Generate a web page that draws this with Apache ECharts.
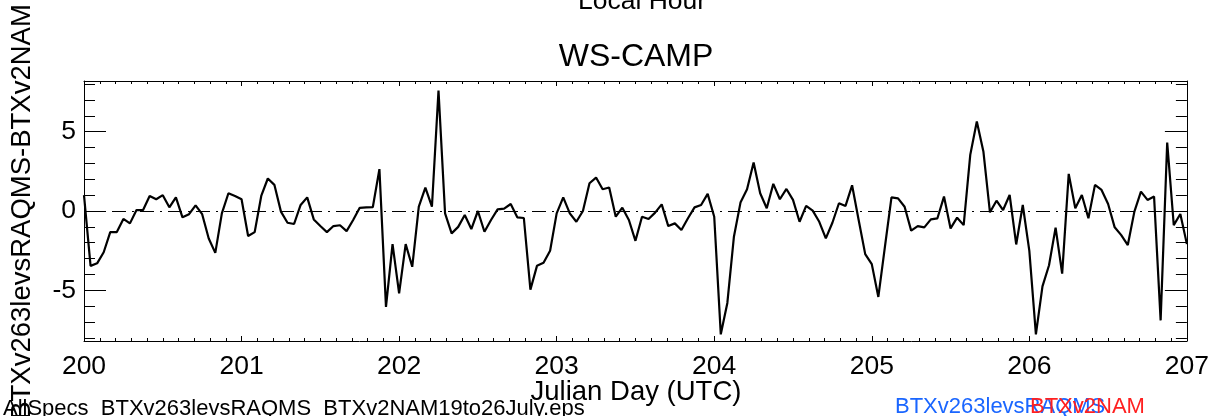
<!DOCTYPE html>
<html>
<head>
<meta charset="utf-8">
<script src="https://cdn.jsdelivr.net/npm/echarts@6/dist/echarts.min.js"></script>
<style>
html,body{margin:0;padding:0;background:#fff;}
#chart{width:1212px;height:416px;}
</style>
</head>
<body>
<div id="chart"></div>
<script>
// ---- data (hourly values, Julian Day 200.0 .. 207.0) ----
const startDay = 200;
const hoursPerDay = 24;
const diffValues = [
  1.0, -3.46, -3.3, -2.6, -1.33, -1.33, -0.5, -0.78, 0.06, 0.06, 0.95, 0.74,
  1.0, 0.23, 0.86, -0.4, -0.2, 0.36, -0.2, -1.73, -2.64, -0.15, 1.12, 0.95,
  0.74, -1.58, -1.33, 0.95, 2.05, 1.65, -0.04, -0.74, -0.82, 0.38, 0.86, -0.53,
  -0.95, -1.33, -0.95, -0.9, -1.27, -0.57, 0.2, 0.23, 0.25, 2.64, -6.05, -2.09,
  -5.2, -2.09, -3.52, 0.27, 1.48, 0.27, 7.6, -0.15, -1.41, -1.0, -0.25, -1.14,
  0.0, -1.31, -0.57, 0.1, 0.15, 0.44, -0.4, -0.44, -4.96, -3.46, -3.27, -2.51,
  -0.15, 0.86, -0.15, -0.68, 0.0, 1.75, 2.11, 1.37, 1.48, -0.36, 0.21, -0.57,
  -1.88, -0.36, -0.5, -0.1, 0.42, -0.95, -0.78, -1.2, -0.46, 0.23, 0.38, 1.08,
  -0.36, -7.78, -5.8, -1.62, 0.53, 1.37, 3.06, 1.12, 0.17, 1.71, 0.74, 1.39,
  0.7, -0.68, 0.32, 0.02, -0.68, -1.73, -0.74, 0.49, 0.32, 1.62, -0.57, -2.72,
  -3.35, -5.42, -2.26, 0.86, 0.8, 0.27, -1.24, -0.95, -1.03, -0.53, -0.46, 0.91,
  -1.1, -0.42, -0.89, 3.54, 5.65, 3.76, -0.08, 0.65, 0.06, 1.01, -2.11, 0.38,
  -2.51, -7.78, -4.75, -3.42, -1.05, -3.95, 2.34, 0.17, 1.01, -0.46, 1.65, 1.33,
  0.44, -1.03, -1.52, -2.15, -0.04, 1.22, 0.7, 0.91, -6.9, 4.32, -0.89, -0.19,
  -2.09
];
const xMin = 200, xMax = 207, xStep = 1;
const yMin = -8.2, yMax = 8.2;
const yMajorTicks = [-5, 0, 5];
const yMinorTicks = [-8, -7, -6, -4, -3, -2, -1, 1, 2, 3, 4, 6, 7, 8];

const titleText = 'WS-CAMP';
const topAxisTitle = 'Local Hour';
const xAxisTitle = 'Julian Day (UTC)';
const yAxisTitle = 'BTXv263levsRAQMS-BTXv2NAM';
const fileLabel = 'AllSpecs_BTXv263levsRAQMS_BTXv2NAM19to26July.eps';
const legendBlue = 'BTXv263levsRAQMS';
const legendRed = 'BTXv2NAM';

// ---- build ----
const FONT = '"Liberation Sans", Arial, Helvetica, sans-serif';
const seriesData = diffValues.map((v, i) => [startDay + i / hoursPerDay, v]);

function xAx(pos, showLabel) {
  return {
    type: 'value', position: pos, min: xMin, max: xMax, interval: xStep,
    axisLine: { show: true, onZero: false, lineStyle: { color: '#000', width: 1 } },
    axisTick: { show: true, inside: true, length: 5, lineStyle: { color: '#000', width: 1 } },
    minorTick: { show: true, splitNumber: 10, length: 3, lineStyle: { color: '#000', width: 1 } },
    axisLabel: { show: showLabel, color: '#000', fontSize: 26.5, fontFamily: FONT, margin: 12,
      formatter: v => String(Math.round(v)) },
    splitLine: { show: false }, minorSplitLine: { show: false }
  };
}
function yAx(pos, ticks, len, showLine, showLabel) {
  return {
    type: 'value', position: pos, min: yMin, max: yMax,
    axisLine: { show: showLine, onZero: false, lineStyle: { color: '#000', width: 1 } },
    axisTick: { show: true, inside: true, length: len, customValues: ticks,
      lineStyle: { color: '#000', width: 1 } },
    axisLabel: { show: showLabel, customValues: ticks, color: '#000', fontSize: 26.5,
      fontFamily: FONT, margin: 8 },
    splitLine: { show: false }
  };
}

const chart = echarts.init(document.getElementById('chart'), null, { renderer: 'canvas' });
chart.setOption({
  animation: false,
  backgroundColor: '#fff',
  grid: { left: 84, right: 24, top: 81, bottom: 75, containLabel: false },
  xAxis: [xAx('bottom', true), xAx('top', false)],
  yAxis: [
    yAx('left', yMajorTicks, 22, true, true),
    yAx('left', yMinorTicks, 11, false, false),
    yAx('right', yMajorTicks, 22, true, false),
    yAx('right', yMinorTicks, 11, false, false)
  ],
  series: [{
    type: 'line', xAxisIndex: 0, yAxisIndex: 0, data: seriesData,
    showSymbol: false, symbol: 'none',
    lineStyle: { color: '#000', width: 2.2 },
    markLine: {
      silent: true, symbol: 'none', label: { show: false },
      lineStyle: { color: '#000', width: 1, type: [14, 6, 2, 6] },
      data: [{ yAxis: 0 }]
    }
  }],
  graphic: [
    { type: 'text', x: 636, y: 57, style: { text: titleText, fill: '#000',
      font: '32px ' + FONT, textAlign: 'center', textVerticalAlign: 'middle' } },
    { type: 'text', x: 642, y: 2, style: { text: topAxisTitle, fill: '#000',
      font: '26.5px ' + FONT, textAlign: 'center', textVerticalAlign: 'middle' } },
    { type: 'text', x: 636, y: 392, style: { text: xAxisTitle, fill: '#000',
      font: '27.5px ' + FONT, textAlign: 'center', textVerticalAlign: 'middle' } },
    { type: 'text', x: 22, y: 212, rotation: Math.PI / 2, style: { text: yAxisTitle, fill: '#000',
      font: '27.5px ' + FONT, textAlign: 'center', textVerticalAlign: 'middle' } },
    { type: 'text', x: 3, y: 409, style: { text: fileLabel, fill: '#000',
      font: '22px ' + FONT, textAlign: 'left', textVerticalAlign: 'middle' } },
    { type: 'text', x: 895, y: 407, style: { text: legendBlue, fill: '#1a66ff',
      font: '22px ' + FONT, textAlign: 'left', textVerticalAlign: 'middle' } },
    { type: 'text', x: 1030, y: 407, style: { text: legendRed, fill: '#ff2020',
      font: '22px ' + FONT, textAlign: 'left', textVerticalAlign: 'middle' } }
  ]
});
</script>
</body>
</html>
